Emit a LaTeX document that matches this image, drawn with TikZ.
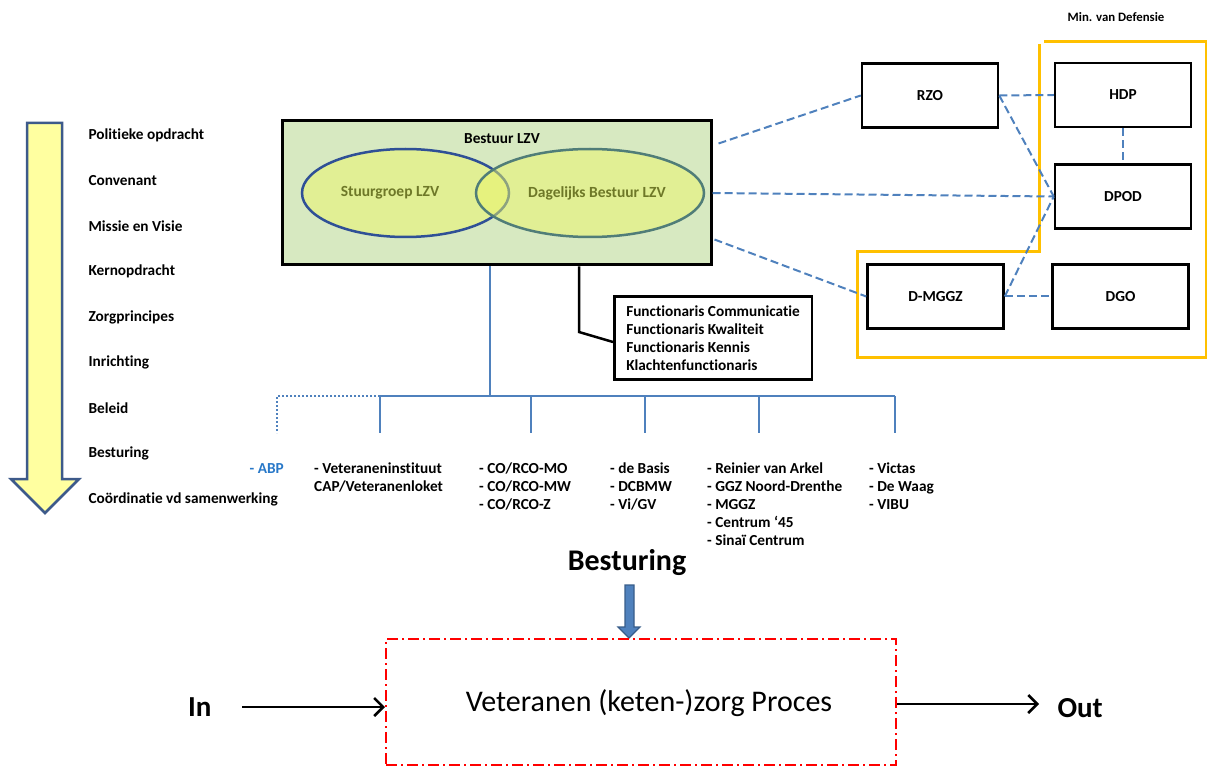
\documentclass[tikz,border=0pt]{standalone}
\usepackage{fontspec}
\setmainfont{Carlito}[Ligatures=NoCommon]
\usetikzlibrary{positioning, shapes.geometric, arrows.meta, calc}

\definecolor{pijlgeel}{RGB}{255,255,160}
\definecolor{pijlrand}{RGB}{61,90,138}
\definecolor{lzvgroen}{RGB}{215,233,193}
\definecolor{ovaalgeel}{RGB}{235,245,105}
\definecolor{ovaalblauw}{RGB}{47,80,150}
\definecolor{ovaalgrijs}{RGB}{80,125,120}
\definecolor{olijf}{RGB}{110,120,40}
\definecolor{lijnblauw}{RGB}{79,129,189}
\definecolor{abpblauw}{RGB}{40,120,200}
\definecolor{defensie}{RGB}{255,192,0}
\definecolor{stuurrand}{RGB}{56,93,138}

\begin{document}
\begin{tikzpicture}[
    x=1pt, y=-1pt,
    stap/.style={anchor=west, font=\fontsize{15.3}{18}\selectfont\bfseries},
    orgbox/.style={rectangle, draw, line width=2.5pt, minimum width=136pt, minimum height=64pt, font=\fontsize{15.3}{18}\selectfont\bfseries},
    ovaal/.style={ellipse, line width=2.5pt, fill=ovaalgeel, fill opacity=0.5, minimum height=88pt},
    ovaaltekst/.style={text=olijf, font=\fontsize{15.5}{18}\selectfont\bfseries},
    link/.style={draw=lijnblauw, dash pattern=on 8pt off 4pt, line width=2pt},
    tak/.style={draw=lijnblauw, line width=2.5pt},
    lijst/.style={anchor=north west, align=left, inner sep=0pt, font=\fontsize{15.3}{18}\selectfont\bfseries},
    groot/.style={font=\fontsize{29}{32}\selectfont\bfseries},
    stroom/.style={line width=2.5pt, -{Straight Barb[length=9pt, width=18pt]}}
]

\useasboundingbox (0,0) rectangle (1207,767);

% Stappen pijl
\draw[pijlrand, fill=pijlgeel, line width=2.5pt, line join=miter]
    (27,123) -- (62,123) -- (62,479) -- (79,479) -- (45,513) -- (11,479) -- (27,479) -- cycle;
\foreach \tekst [count=\i] in {Politieke opdracht, Convenant, Missie en Visie, Kernopdracht, Zorgprincipes, Inrichting, Beleid, Besturing, Coördinatie vd samenwerking}
    \node[stap] (stap\i) at (85,{135+45.5*(\i-1)}) {\tekst};

% Bestuur LZV
\node[draw, line width=3pt, fill=lzvgroen, minimum width=429pt, minimum height=144pt] (bestuur) at (496.5,193) {};
\node[font=\fontsize{15.3}{18}\selectfont\bfseries] (bestuurtitel) at (502,139) {Bestuur LZV};
\node[ovaal, draw=ovaalblauw, minimum width=207pt] (stuurgroep) at (405.5,193) {};
\node[ovaal, draw=ovaalgrijs, minimum width=228pt] (dagelijks) at (590,193) {};
\node[ovaaltekst] (stuurtekst) at (390,193) {Stuurgroep LZV};
\node[ovaaltekst] (dagtekst) at (597,193) {Dagelijks Bestuur LZV};

% Functionarissen
\node[draw, line width=2.5pt, minimum width=188pt, minimum height=83pt, inner xsep=12pt, align=left, anchor=west,
      font=\fontsize{15.3}{18}\selectfont\bfseries] (functie) at (613,338)
    {Functionaris Communicatie\\Functionaris Kwaliteit\\Functionaris Kennis\\Klachtenfunctionaris};
\coordinate (knik) at (579,332);
\draw[line width=2.5pt] (bestuur.south -| knik) -- (knik) -- ([yshift=-4pt]functie.west);

% Min. van Defensie
\node[font=\fontsize{12.8}{15}\selectfont\bfseries] (mindef) at (1116,17) {Min. van Defensie};
\draw[defensie, line width=3pt]
    (1044,42) -- (1206,42) -- (1206,357) -- (857,357) -- (857,252) -- (1039,252) -- (1039,44);

\node[orgbox, text depth=-8pt] (rzo) at (930,95.5) {RZO};
\node[orgbox, text depth=-8pt] (hdp) at (1123,95) {HDP};
\node[orgbox] (dpod) at (1123,196.5) {DPOD};
\node[orgbox, text depth=-2pt] (dmggz) at (935.5,296.5) {D-MGGZ};
\node[orgbox] (dgo) at (1120.5,296.5) {DGO};

% Stippellijnen
\draw[link] ($(bestuur.north east)+(6,24)$) -- (rzo.west);
\draw[link] (bestuur.east) -- (dpod.west);
\draw[link] ($(bestuur.south east)+(2,-27)$) -- (dmggz.west);
\draw[link] (rzo.east) -- (hdp.west);
\draw[link] (rzo.east) -- (dpod.west);
\draw[link] (hdp.south) -- (dpod.north);
\draw[link] (dmggz.east) -- (dpod.west);
\draw[link] (dmggz.east) -- (dgo.west);

% Uitvoerders
\coordinate (knoop) at (490,396);
\draw[tak] (bestuur.south -| knoop) -- (knoop);
\draw[tak] (380,396) -- (895,396);
\foreach \x [count=\i] in {380,531,645,759,895} {
    \coordinate (tak\i) at (\x,433);
    \draw[tak] (\x,396) -- (tak\i);
}
\coordinate (abptak) at (277,433);
\draw[draw=lijnblauw, line width=2pt, dotted] (380,396) -| (abptak);

\node[lijst, anchor=north east, text=abpblauw] (abp) at (284,463) {- ABP};
\node[lijst] (veteranen) at (314,463) {- Veteraneninstituut\\CAP/Veteranenloket};
\node[lijst] (co) at (479,463) {- CO/RCO-MO\\- CO/RCO-MW\\- CO/RCO-Z};
\node[lijst] (basis) at (610,463) {- de Basis\\- DCBMW\\- Vi/GV};
\node[lijst] (zorg) at (707,463) {- Reinier van Arkel\\- GGZ Noord-Drenthe\\- MGGZ\\- Centrum ‘45\\- Sinaï Centrum};
\node[lijst] (victas) at (869,463) {- Victas\\- De Waag\\- VIBU};

% Proces
\node[groot, font=\fontsize{30}{34}\selectfont\bfseries] (besturing) at (627,563) {Besturing};
\draw[stuurrand, fill=lijnblauw, line width=1.2pt]
    (625,585) -- (634,585) -- (634,627) -- (640,627) -- (629,638) -- (618,627) -- (625,627) -- cycle;
\node[draw=red, line width=2pt, dash pattern=on 11pt off 4pt on 2pt off 4pt, minimum width=510pt, minimum height=126pt]
    (proces) at (641,702) {};
\node[font=\fontsize{30}{34}\selectfont] (procestekst) at (649,703) {Veteranen (keten-)zorg Proces};
\node[groot, anchor=east] (in) at (215,707) {In};
\node[groot, anchor=west] (uit) at (1054,708) {Out};
\coordinate (inpunt) at (242,707);
\coordinate (uitpunt) at (1039,704);
\draw[stroom] (inpunt) -- (proces.west |- inpunt);
\draw[stroom] (proces.east |- uitpunt) -- (uitpunt);

\end{tikzpicture}
\end{document}
